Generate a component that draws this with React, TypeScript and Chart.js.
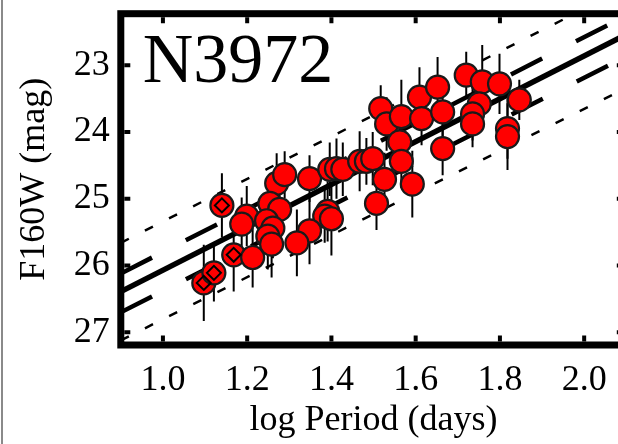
import React, { useEffect, useRef } from "react";
import { Chart, registerables } from "chart.js";

Chart.register(...registerables);

// Cepheid data
const logP = [
  1.097, 1.121, 1.140, 1.168, 1.213, 1.199, 1.187, 1.270, 1.289, 1.254,
  1.277, 1.246, 1.261, 1.249, 1.258, 1.348, 1.396, 1.412, 1.427, 1.467,
  1.483, 1.498, 1.526, 1.507, 1.391, 1.384, 1.400, 1.348, 1.318, 1.517,
  1.531, 1.566, 1.609, 1.614, 1.652, 1.664, 1.562, 1.566, 1.664, 1.592,
  1.720, 1.758, 1.799, 1.846, 1.751, 1.735, 1.735, 1.818, 1.818,
];
const mag = [
  26.26, 26.11, 25.10, 25.84, 25.88, 25.26, 25.38, 24.77, 24.64, 25.07,
  25.16, 25.33, 25.44, 25.56, 25.68, 24.70, 24.56, 24.55, 24.56, 24.44,
  24.44, 24.40, 24.71, 25.07, 25.19, 25.26, 25.30, 25.48, 25.66, 23.65,
  23.88, 23.77, 23.48, 23.80, 23.33, 23.70, 24.15, 24.44, 24.25, 24.78,
  23.15, 23.25, 23.28, 23.52, 23.58, 23.73, 23.88, 23.95, 24.07,
];
const magErr = [
  0.57, 0.43, 0.48, 0.55, 0.45, 0.45, 0.40, 0.45, 0.35, 0.45,
  0.40, 0.40, 0.45, 0.50, 0.50, 0.35, 0.40, 0.45, 0.40, 0.45,
  0.35, 0.40, 0.40, 0.40, 0.45, 0.40, 0.55, 0.50, 0.50, 0.35,
  0.40, 0.55, 0.45, 0.40, 0.45, 0.40, 0.40, 0.40, 0.40, 0.50,
  0.35, 0.55, 0.45, 0.30, 0.40, 0.40, 0.35, 0.45, 0.50,
];
// 1 = point marked with a diamond
const diamondFlag = [
  1, 1, 1, 1, 0, 0, 0, 0, 0, 0,
  0, 0, 0, 0, 0, 0, 0, 0, 0, 0,
  0, 0, 0, 0, 0, 0, 0, 0, 0, 0,
  0, 0, 0, 0, 0, 0, 0, 0, 0, 0,
  0, 0, 0, 0, 0, 0, 0, 0, 0,
];

// Fit and band lines: magnitudes at the two ends of the x range
const lineX = [0.9, 2.1];
const fitMag = [26.39, 22.54];
const upperDashMag = [26.12, 22.26];
const lowerDashMag = [26.7, 22.87];
const upperDotMag = [25.66, 21.84];
const lowerDotMag = [27.12, 23.34];

const xTicks = [1.0, 1.2, 1.4, 1.6, 1.8, 2.0];
const yTicks = [23, 24, 25, 26, 27];
const xRange = [0.9, 2.1];
const yRange = [22.23, 27.19];

const galaxyLabel = "N3972";
const xTitle = "log Period (days)";
const yTitle = "F160W (mag)";

const SERIF = '"Liberation Serif", "Times New Roman", serif';

const linePts = (ys: number[]) => lineX.map((x, i) => ({ x, y: ys[i] }));

const errorBarPlugin = {
  id: "errorBars",
  beforeDatasetsDraw(chart: any) {
    const { ctx, chartArea, scales } = chart;
    ctx.save();
    ctx.beginPath();
    ctx.rect(chartArea.left, chartArea.top, chartArea.right - chartArea.left, chartArea.bottom - chartArea.top);
    ctx.clip();
    ctx.strokeStyle = "#000";
    ctx.lineWidth = 2;
    for (let i = 0; i < logP.length; i++) {
      const px = scales.x.getPixelForValue(logP[i]);
      const y1 = scales.y.getPixelForValue(mag[i] - magErr[i]);
      const y2 = scales.y.getPixelForValue(mag[i] + magErr[i]);
      ctx.beginPath();
      ctx.moveTo(px, y1);
      ctx.lineTo(px, y2);
      ctx.stroke();
    }
    ctx.restore();
  },
};

const framePlugin = {
  id: "frame",
  afterDraw(chart: any) {
    const { ctx, chartArea, scales } = chart;
    const { left, right, top, bottom } = chartArea;
    ctx.save();
    ctx.strokeStyle = "#000";
    ctx.lineWidth = 7;
    ctx.strokeRect(left, top, right - left, bottom - top);
    ctx.lineWidth = 4;
    const half = 3.5;
    const tl = 6;
    for (const v of xTicks) {
      const px = scales.x.getPixelForValue(v);
      ctx.beginPath();
      ctx.moveTo(px, bottom - half);
      ctx.lineTo(px, bottom - half - tl);
      ctx.moveTo(px, top + half);
      ctx.lineTo(px, top + half + tl);
      ctx.stroke();
    }
    for (const v of yTicks) {
      const py = scales.y.getPixelForValue(v);
      ctx.beginPath();
      ctx.moveTo(left + half, py);
      ctx.lineTo(left + half + tl, py);
      ctx.moveTo(right - half, py);
      ctx.lineTo(right - half - tl, py);
      ctx.stroke();
    }
    ctx.fillStyle = "#000";
    ctx.font = `70px ${SERIF}`;
    ctx.textBaseline = "alphabetic";
    ctx.textAlign = "left";
    ctx.fillText(galaxyLabel, left + 22, top + 68.5);
    ctx.restore();
  },
};

export default function App() {
  const canvasRef = useRef<HTMLCanvasElement | null>(null);

  useEffect(() => {
    const canvas = canvasRef.current;
    if (!canvas) return;
    const circlePts = logP.map((x, i) => ({ x, y: mag[i] }));
    const diamondPts = logP
      .map((x, i) => ({ x, y: mag[i], f: diamondFlag[i] }))
      .filter((p) => p.f === 1)
      .map((p) => ({ x: p.x, y: p.y }));

    const lineDs = (ys: number[], width: number, dash: number[]) => ({
      type: "line" as const,
      data: linePts(ys),
      borderColor: "#000",
      borderWidth: width,
      borderDash: dash,
      pointRadius: 0,
      fill: false,
      tension: 0,
      order: 3,
    });

    const chart = new Chart(canvas, {
      type: "scatter",
      data: {
        datasets: [
          {
            type: "scatter",
            data: diamondPts,
            pointStyle: "rectRot",
            pointRadius: 7,
            pointBorderWidth: 2,
            pointBackgroundColor: "rgba(0,0,0,0)",
            pointBorderColor: "#000",
            order: 0,
          } as any,
          {
            type: "scatter",
            data: circlePts,
            pointStyle: "circle",
            pointRadius: 11.5,
            pointBorderWidth: 2.2,
            pointBackgroundColor: "#ff0000",
            pointBorderColor: "#1a1a1a",
            order: 1,
          } as any,
          lineDs(fitMag, 5.5, []),
          lineDs(upperDashMag, 4.5, [35, 38]),
          lineDs(lowerDashMag, 4.5, [35, 38]),
          lineDs(upperDotMag, 2.5, [9, 18]),
          lineDs(lowerDotMag, 2.5, [9, 18]),
        ],
      },
      options: {
        animation: false,
        responsive: false,
        devicePixelRatio: 1,
        events: [],
        layout: { padding: { top: 11.5, right: 12.8, left: 0, bottom: 0 } },
        plugins: { legend: { display: false }, tooltip: { enabled: false } },
        scales: {
          x: {
            type: "linear",
            position: "bottom",
            min: xRange[0],
            max: xRange[1],
            afterBuildTicks: (s: any) => {
              s.ticks = xTicks.map((v) => ({ value: v }));
            },
            afterFit: (s: any) => {
              s.height = 99;
              s.paddingLeft = 0;
              s.paddingRight = 0;
            },
            grid: { display: false, drawTicks: false },
            border: { display: false },
            ticks: {
              color: "#000",
              padding: 14,
              font: { family: SERIF, size: 36 },
              callback: (v: any) => Number(v).toFixed(1),
            },
            title: {
              display: true,
              text: xTitle,
              color: "#000",
              font: { family: SERIF, size: 36, lineHeight: 1 },
              padding: { top: 0, bottom: 5 },
            },
          },
          y: {
            type: "linear",
            position: "left",
            reverse: true,
            min: yRange[0],
            max: yRange[1],
            afterBuildTicks: (s: any) => {
              s.ticks = yTicks.map((v) => ({ value: v }));
            },
            afterFit: (s: any) => {
              s.width = 120.8;
              s.paddingTop = 0;
              s.paddingBottom = 0;
            },
            grid: { display: false, drawTicks: false },
            border: { display: false },
            ticks: {
              color: "#000",
              padding: 11,
              font: { family: SERIF, size: 36 },
              callback: (v: any) => String(v),
            },
            title: {
              display: true,
              text: yTitle,
              color: "#000",
              font: { family: SERIF, size: 36, lineHeight: 1 },
              padding: { top: 17, bottom: 0 },
            },
          },
        },
      } as any,
      plugins: [errorBarPlugin, framePlugin],
    });
    return () => chart.destroy();
  }, []);

  return (
    <div
      style={{
        position: "fixed",
        left: 0,
        top: 0,
        width: 618,
        height: 444,
        overflow: "hidden",
        background: "#fff",
      }}
    >
      <canvas ref={canvasRef} width={640} height={444} style={{ display: "block" }} />
      <div style={{ position: "absolute", left: 1, top: 0, width: 2, height: 444, background: "#8a8a8a" }} />
    </div>
  );
}
